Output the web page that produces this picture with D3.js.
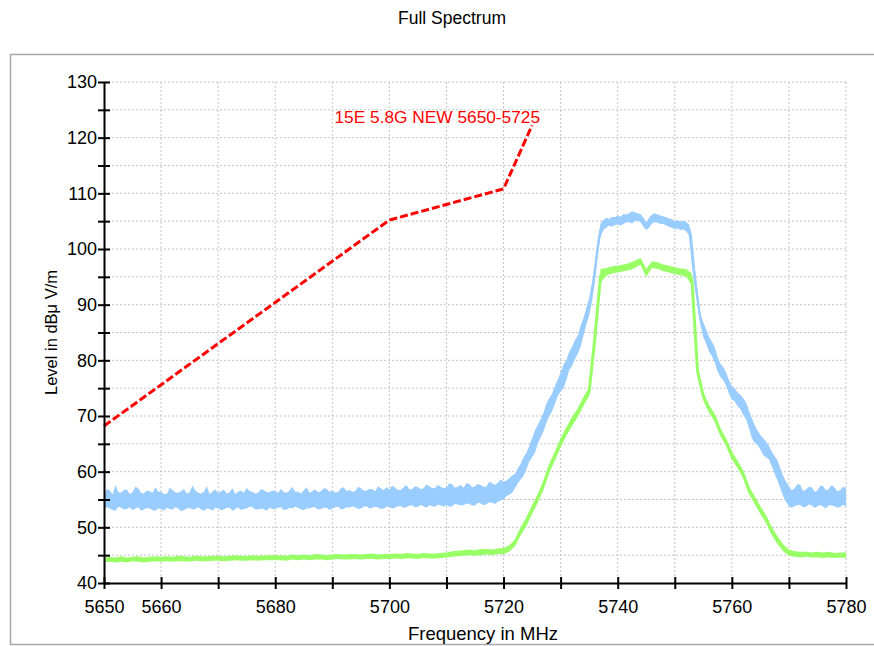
<!DOCTYPE html>
<html>
<head>
<meta charset="utf-8">
<script src="https://cdn.jsdelivr.net/npm/d3@7"></script>
<style>
  body { margin: 0; background: #fff; }
  svg text { font-family: "Liberation Sans", Arial, sans-serif; fill: #000; }
  .grid line { stroke: #c4c4c4; stroke-dasharray: 2,2; stroke-width: 1; }
  .axis path, .axis line { stroke: #000; stroke-width: 2; }
  .axis text { font-size: 18px; }
</style>
</head>
<body>
<div id="chart"></div>
<script>
// blue trace (peak) samples, every 0.5 MHz
const blueFreqs = [
  5650,5650.5,5651,5651.5,5652,5652.5,5653,5653.5,5654,5654.5,5655,5655.5,5656,5656.5,5657,5657.5,5658,5658.5,5659,5659.5,
  5660,5660.5,5661,5661.5,5662,5662.5,5663,5663.5,5664,5664.5,5665,5665.5,5666,5666.5,5667,5667.5,5668,5668.5,5669,5669.5,
  5670,5670.5,5671,5671.5,5672,5672.5,5673,5673.5,5674,5674.5,5675,5675.5,5676,5676.5,5677,5677.5,5678,5678.5,5679,5679.5,
  5680,5680.5,5681,5681.5,5682,5682.5,5683,5683.5,5684,5684.5,5685,5685.5,5686,5686.5,5687,5687.5,5688,5688.5,5689,5689.5,
  5690,5690.5,5691,5691.5,5692,5692.5,5693,5693.5,5694,5694.5,5695,5695.5,5696,5696.5,5697,5697.5,5698,5698.5,5699,5699.5,
  5700,5700.5,5701,5701.5,5702,5702.5,5703,5703.5,5704,5704.5,5705,5705.5,5706,5706.5,5707,5707.5,5708,5708.5,5709,5709.5,
  5710,5710.5,5711,5711.5,5712,5712.5,5713,5713.5,5714,5714.5,5715,5715.5,5716,5716.5,5717,5717.5,5718,5718.5,5719,5719.5,
  5720,5720.5,5721,5721.5,5722,5722.5,5723,5723.5,5724,5724.5,5725,5725.5,5726,5726.5,5727,5727.5,5728,5728.5,5729,5729.5,
  5730,5730.5,5731,5731.5,5732,5732.5,5733,5733.5,5734,5734.5,5735,5735.5,5736,5736.5,5737,5737.5,5738,5738.5,5739,5739.5,
  5740,5740.5,5741,5741.5,5742,5742.5,5743,5743.5,5744,5744.5,5745,5745.5,5746,5746.5,5747,5747.5,5748,5748.5,5749,5749.5,
  5750,5750.5,5751,5751.5,5752,5752.5,5753,5753.5,5754,5754.5,5755,5755.5,5756,5756.5,5757,5757.5,5758,5758.5,5759,5759.5,
  5760,5760.5,5761,5761.5,5762,5762.5,5763,5763.5,5764,5764.5,5765,5765.5,5766,5766.5,5767,5767.5,5768,5768.5,5769,5769.5,
  5770,5770.5,5771,5771.5,5772,5772.5,5773,5773.5,5774,5774.5,5775,5775.5,5776,5776.5,5777,5777.5,5778,5778.5,5779,5779.5,
  5780
];
// low / high edge of the blue noise band, dBuV/m
const blueLo = [
  53.2,53.6,53.4,53.1,53.0,53.7,53.5,53.2,53.3,53.6,53.1,53.4,53.6,53.0,53.2,53.5,53.4,53.1,53.0,53.4,
  53.3,53.0,53.5,53.3,53.2,53.6,53.4,52.9,53.1,53.4,53.5,53.2,53.3,53.6,53.2,53.0,53.4,53.3,53.0,53.5,
  53.4,53.1,53.2,53.5,53.5,53.0,53.3,53.6,53.1,53.3,53.4,53.7,53.6,53.2,53.2,53.4,53.3,53.0,53.5,53.3,
  53.3,53.5,53.6,53.1,53.2,53.5,53.4,53.7,53.5,53.2,53.1,53.4,53.4,53.6,53.6,53.2,53.3,53.5,53.5,53.1,
  53.4,53.6,53.7,53.2,53.3,53.6,53.5,53.8,53.6,53.3,53.4,53.7,53.8,53.4,53.5,53.7,53.6,53.3,53.4,53.7,
  53.7,53.4,53.5,53.8,53.8,53.5,53.6,53.9,53.9,53.6,53.7,54.0,53.8,53.5,54.0,53.8,53.7,54.1,53.9,53.7,
  54.0,53.7,53.8,54.2,54.1,53.9,54.0,54.3,54.2,53.9,53.9,54.4,54.3,54.0,54.1,54.5,54.4,54.2,54.6,54.8,
  55.0,55.6,55.9,56.2,57.0,57.9,58.6,59.2,60.4,61.8,62.6,63.4,65.0,66.2,67.2,68.8,70.0,70.8,72.2,73.6,
  74.4,75.0,76.4,78.2,79.0,80.2,81.2,82.4,84.4,86.4,88.0,90.6,94.0,98.6,102.2,103.4,103.8,104.2,104.0,104.3,
  104.4,104.2,104.5,104.8,104.8,104.6,105.0,105.1,104.8,104.0,103.4,103.8,104.6,104.8,104.7,104.5,104.5,104.2,104.0,103.8,
  103.6,103.7,103.4,103.5,103.2,102.4,97.0,93.0,89.5,86.4,84.2,83.0,81.6,80.8,79.6,78.0,77.0,76.4,75.4,74.0,
  73.0,72.6,71.8,71.2,70.2,69.4,67.8,66.0,65.2,64.8,64.0,63.0,62.6,62.2,61.0,59.6,58.4,57.0,55.6,54.6,
  53.8,53.5,53.8,54.0,54.0,53.6,53.7,54.1,53.9,53.5,53.8,54.0,53.7,53.4,54.0,53.9,53.8,53.5,53.7,54.0,
  53.8
];
const blueHi = [
  56.0,56.9,56.6,55.9,57.6,56.3,56.2,56.7,56.8,56.0,56.3,57.3,57.0,56.2,56.1,56.6,56.5,56.2,57.2,56.4,
  56.4,56.0,56.0,57.1,56.7,56.3,56.2,56.5,56.9,56.1,56.3,57.5,56.6,56.2,56.1,56.4,57.4,56.0,56.4,56.8,
  56.2,56.5,56.8,56.1,56.3,57.0,56.0,56.4,56.6,56.2,57.1,56.5,56.4,56.1,56.2,56.9,56.7,56.3,56.3,56.6,
  56.5,56.2,56.9,56.3,56.2,56.6,57.3,56.4,56.4,56.1,56.6,57.2,56.2,56.5,56.8,56.3,56.5,57.0,56.9,56.4,
  56.6,56.3,56.3,57.0,57.2,56.5,56.7,56.4,56.5,57.3,57.0,56.6,56.6,56.9,56.9,56.5,57.4,57.0,56.7,57.2,
  56.8,57.5,57.1,56.7,56.7,57.2,57.6,56.8,56.9,57.4,57.2,56.9,57.0,57.7,57.4,57.0,57.1,57.6,57.3,57.0,
  57.2,57.9,57.7,57.1,57.3,57.6,57.1,57.9,57.8,57.2,57.4,57.8,57.6,57.3,57.3,58.2,57.9,57.6,58.0,58.6,
  58.2,58.4,58.8,59.3,59.6,60.6,61.4,62.6,63.4,64.6,66.0,67.4,68.4,69.4,70.6,72.2,73.2,74.0,75.4,76.6,
  77.8,79.2,80.0,81.6,82.4,83.6,84.4,86.2,87.6,89.4,91.2,94.0,97.8,101.8,104.6,105.2,105.6,105.4,105.8,105.7,
  106.0,105.8,106.3,106.2,106.4,106.8,106.6,106.4,106.3,105.6,104.8,105.6,106.2,106.4,106.2,106.0,105.9,105.7,105.5,105.4,
  105.0,105.2,104.9,105.1,104.8,104.4,102.6,97.0,92.6,88.4,86.8,85.6,84.2,83.4,82.4,80.6,79.4,78.8,77.8,76.4,
  75.4,75.0,74.2,73.8,73.2,72.4,71.0,69.6,68.4,67.4,66.6,66.0,65.4,64.6,63.6,62.8,62.0,60.6,59.2,58.2,
  57.4,56.6,57.0,57.8,57.6,56.5,56.8,57.3,57.2,56.4,56.6,57.5,57.4,56.6,56.9,57.6,57.1,56.5,56.7,57.3,
  57.0
];

// green trace (average) samples, every 1 MHz
const greenFreqs = [
  5650,5651,5652,5653,5654,5655,5656,5657,5658,5659,
  5660,5661,5662,5663,5664,5665,5666,5667,5668,5669,
  5670,5671,5672,5673,5674,5675,5676,5677,5678,5679,
  5680,5681,5682,5683,5684,5685,5686,5687,5688,5689,
  5690,5691,5692,5693,5694,5695,5696,5697,5698,5699,
  5700,5701,5702,5703,5704,5705,5706,5707,5708,5709,
  5710,5711,5712,5713,5714,5715,5716,5717,5718,5719,
  5720,5721,5722,5723,5724,5725,5726,5727,5728,5729,
  5730,5731,5732,5733,5734,5735,5736,5737,5738,5739,
  5740,5741,5742,5743,5744,5745,5746,5747,5748,5749,
  5750,5751,5752,5753,5754,5755,5756,5757,5758,5759,
  5760,5761,5762,5763,5764,5765,5766,5767,5768,5769,
  5770,5771,5772,5773,5774,5775,5776,5777,5778,5779,
  5780
];
const greenLo = [
  43.7,43.8,43.7,43.8,43.7,43.9,43.8,43.7,43.8,43.9,
  43.8,43.9,43.8,43.9,43.9,43.8,44.0,43.9,43.9,44.0,
  44.0,43.9,44.0,44.1,44.0,44.0,44.1,44.0,44.1,44.1,
  44.1,44.1,44.0,44.2,44.1,44.2,44.1,44.2,44.2,44.1,
  44.2,44.3,44.2,44.2,44.3,44.2,44.3,44.3,44.2,44.3,
  44.3,44.4,44.3,44.4,44.4,44.3,44.5,44.4,44.4,44.5,
  44.6,44.7,44.8,44.9,45.0,44.9,45.0,45.1,45.0,45.2,
  45.2,45.6,46.6,48.6,50.2,52.4,54.4,56.8,59.8,62.0,
  64.4,66.4,68.2,69.8,71.8,73.6,82.0,94.0,95.2,95.6,
  95.8,96.0,96.2,96.6,97.2,95.0,96.6,96.4,96.0,95.8,
  95.5,95.3,95.0,93.4,77.0,72.8,70.6,69.0,66.4,64.6,
  62.2,60.6,58.8,56.0,54.2,52.4,50.8,48.6,47.0,45.7,
  44.9,44.7,44.6,44.7,44.6,44.6,44.5,44.6,44.5,44.6,
  44.5
];
const greenHi = [
  44.6,44.7,44.6,44.8,44.6,44.7,44.8,44.6,44.7,44.8,
  44.7,44.8,44.7,44.9,44.8,44.7,44.9,44.8,44.8,44.9,
  44.9,44.8,44.9,45.0,44.9,44.9,45.0,44.9,45.0,45.0,
  45.0,45.0,44.9,45.1,45.0,45.1,45.0,45.2,45.1,45.0,
  45.1,45.2,45.1,45.2,45.2,45.1,45.2,45.3,45.1,45.2,
  45.2,45.3,45.2,45.4,45.3,45.2,45.4,45.3,45.3,45.4,
  45.5,45.7,45.8,45.9,46.0,45.9,46.1,46.1,46.0,46.2,
  46.3,46.8,47.8,50.0,51.8,54.0,56.0,58.4,61.4,63.6,
  66.0,68.0,69.8,71.4,73.4,75.2,86.0,96.4,96.6,96.9,
  97.0,97.2,97.5,97.9,98.4,96.4,97.8,97.6,97.2,97.0,
  96.7,96.5,96.4,95.6,79.0,74.2,72.0,70.4,67.8,66.0,
  63.6,62.0,60.2,57.4,55.6,53.8,52.2,50.0,48.4,46.9,
  46.0,45.7,45.6,45.6,45.5,45.6,45.5,45.6,45.4,45.5,
  45.5
];

// limit line "15E 5.8G NEW 5650-5725"
const maskFreq = [5650, 5700, 5720, 5725];
const maskLevel = [68.2, 105.2, 110.8, 122.2];
const maskName = "15E 5.8G NEW 5650-5725";

// ticks
const xTicks = [5650,5660,5670,5680,5690,5700,5710,5720,5730,5740,5750,5760,5770,5780];
const xLabels = [5650,5660,5680,5700,5720,5740,5760,5780];
const yTicks = [40,45,50,55,60,65,70,75,80,85,90,95,100,105,110,115,120,125,130];
const yLabels = [40,50,60,70,80,90,100,110,120,130];

const margin = {top: 82, right: 28, bottom: 63, left: 104};
const width = 874 - margin.left - margin.right;
const height = 646 - margin.top - margin.bottom;

const root = d3.select("#chart")
  .append("svg")
    .attr("width", 874)
    .attr("height", 646);

// outer frame
root.append("rect")
    .attr("x", 10.5)
    .attr("y", 54.5)
    .attr("width", 900)
    .attr("height", 590)
    .attr("fill", "none")
    .attr("stroke", "#a8a8a8")
    .attr("stroke-width", 1.5);

// title
root.append("text")
    .attr("x", 452)
    .attr("y", 24)
    .attr("text-anchor", "middle")
    .style("font-size", "17.5px")
    .text("Full Spectrum");

const svg = root.append("g")
    .attr("transform", "translate(" + margin.left + "," + margin.top + ")");

const xScale = d3.scaleLinear()
  .domain([5650, 5780])
  .range([0, width]);

const yScale = d3.scaleLinear()
  .domain([40, 130])
  .range([height, 0]);

// dotted grid
const grid = svg.append("g").attr("class", "grid");
grid.selectAll(".hline")
  .data(yTicks.slice(1))
  .enter()
  .append("line")
    .attr("x1", 0)
    .attr("x2", width)
    .attr("y1", function(d) { return yScale(d); })
    .attr("y2", function(d) { return yScale(d); });
grid.selectAll(".vline")
  .data(xTicks.slice(1))
  .enter()
  .append("line")
    .attr("x1", function(d) { return xScale(d); })
    .attr("x2", function(d) { return xScale(d); })
    .attr("y1", 0)
    .attr("y2", height);

// traces: noise band + centre line
const traces = [
  {f: blueFreqs, lo: blueLo, hi: blueHi, color: "#99ccff", width: 2},
  {f: greenFreqs, lo: greenLo, hi: greenHi, color: "#99ff66", width: 3}
];

traces.forEach(function(t) {
  const rows = t.f.map(function(f, i) { return {f: f, lo: t.lo[i], hi: t.hi[i]}; });
  svg.append("path")
      .datum(rows)
      .attr("fill", t.color)
      .attr("d", d3.area()
          .x(function(d) { return xScale(d.f); })
          .y0(function(d) { return yScale(d.lo); })
          .y1(function(d) { return yScale(d.hi); })
      );
  svg.append("path")
      .datum(rows)
      .attr("fill", "none")
      .attr("stroke", t.color)
      .attr("stroke-width", t.width)
      .attr("d", d3.line()
          .x(function(d) { return xScale(d.f); })
          .y(function(d) { return yScale((d.lo + d.hi) / 2); })
      );
});

// limit line
const maskRows = maskFreq.map(function(f, i) { return {f: f, v: maskLevel[i]}; });
svg.append("path")
    .datum(maskRows)
    .attr("fill", "none")
    .attr("stroke", "#ff0000")
    .attr("stroke-width", 3)
    .attr("stroke-dasharray", "8,3")
    .attr("d", d3.line()
        .x(function(d) { return xScale(d.f); })
        .y(function(d) { return yScale(d.v); })
    );

svg.append("text")
    .attr("x", xScale(maskFreq[3]) + 8)
    .attr("y", yScale(maskLevel[3]) - 2)
    .attr("text-anchor", "end")
    .style("font-size", "17.3px")
    .style("fill", "#ff0000")
    .text(maskName);

// axes
svg.append("g")
    .attr("class", "axis")
    .attr("transform", "translate(0," + height + ")")
  .call(d3.axisBottom(xScale)
      .tickValues(xTicks)
      .tickSize(6)
      .tickSizeOuter(0)
      .tickPadding(11)
      .tickFormat(function(d) { return xLabels.indexOf(d) >= 0 ? String(d) : ""; }))
  .call(function(g) { g.selectAll(".tick line").attr("y1", -6); });

svg.append("g")
    .attr("class", "axis")
  .call(d3.axisLeft(yScale)
      .tickValues(yTicks)
      .tickSize(6)
      .tickSizeOuter(0)
      .tickPadding(1)
      .tickFormat(function(d) { return yLabels.indexOf(d) >= 0 ? String(d) : ""; }))
  .call(function(g) { g.selectAll(".tick line").attr("x1", 6); });

svg.selectAll(".axis text").style("font-family", "'Liberation Sans', Arial, sans-serif");

// axis titles
root.append("text")
    .attr("x", 483)
    .attr("y", 640)
    .attr("text-anchor", "middle")
    .style("font-size", "18.5px")
    .text("Frequency in MHz");

root.append("text")
    .attr("transform", "translate(57," + (margin.top + height / 2) + ") rotate(-90)")
    .attr("text-anchor", "middle")
    .style("font-size", "16.5px")
    .text("Level in dBμ V/m");
</script>
</body>
</html>
